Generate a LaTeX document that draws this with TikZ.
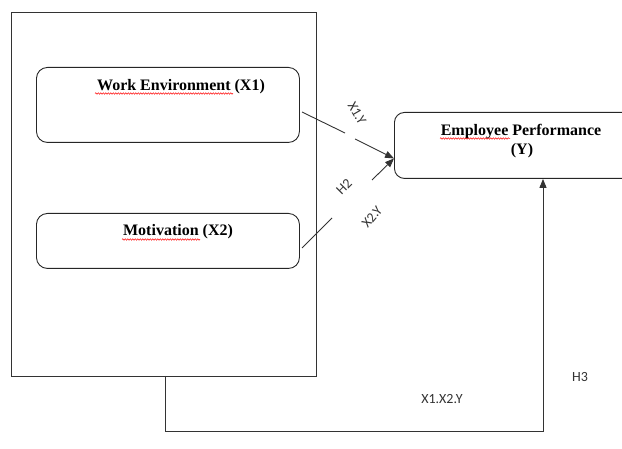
\documentclass[tikz,border=0pt]{standalone}
\usepackage{fontspec}
\setmainfont{Liberation Serif}
\newfontfamily\lblfont{Carlito}
\usetikzlibrary{arrows.meta,decorations.pathmorphing}
\begin{document}
\begin{tikzpicture}[x=1pt,y=-1pt,
 frm/.style={draw=black!80, line width=0.9pt, inner sep=0pt, anchor=north west},
 box/.style={draw=black!85, line width=0.9pt, rounded corners=11pt, inner sep=0pt, anchor=north west},
 title/.style={font=\fontsize{16}{18}\selectfont\bfseries, inner sep=0pt},
 lbl/.style={font=\lblfont\fontsize{14}{16}\selectfont, text=black!80, inner sep=0pt},
 conn/.style={draw=black!80, line width=0.9pt},
 tip/.style={-{Triangle[length=9pt,width=7pt]}},
 spell/.style={draw=red, line width=0.5pt, decorate, decoration={snake,amplitude=0.7pt,segment length=2.5pt}}]
\useasboundingbox (0,0) rectangle (622,449);
% frame
\node[frm, minimum width=305pt, minimum height=364pt] (frame) at (11,12) {};
% boxes
\node[box, minimum width=263pt, minimum height=75pt] (X1) at (36,67) {};
\node[box, minimum width=263pt, minimum height=55pt] (X2) at (36,213) {};
\node[box, rounded corners=10pt, minimum width=250pt, minimum height=66pt] (Y) at (394,112) {};
% titles
\node[title] (t1) at (181,87) {Work Environment (X1)};
\node[title] (t2) at (178,232) {Motivation (X2)};
\node[title] (t3) at (521,132) {Employee Performance};
\node[title] (t4) at (522,151) {(Y)};
% spell-check underlines
\draw[spell] (95,93.5) -- (233,93.5);
\draw[spell] (122,239.5) -- (200,239.5);
\draw[spell] (440,138.5) -- (510,138.5);
% connectors
\coordinate (yin) at ([yshift=-13pt]Y.west);
\coordinate (a1s) at (302,112);
\coordinate (a1g1) at (345,133);
\coordinate (a1g2) at (355,139);
\coordinate (a2s) at (302,248);
\coordinate (a2g1) at (332,218);
\coordinate (a2g2) at (372,180);
\draw[conn] (a1s) -- (a1g1);
\draw[conn,tip] (a1g2) -- (yin);
\draw[conn] (a2s) -- (a2g1);
\draw[conn,tip] (a2g2) -- (yin);
\coordinate (b0) at (165,376);
\coordinate (b1) at (543,431);
\draw[conn,tip] (b0) |- (b1) -- (b1 |- Y.south);
% labels
\node[lbl, rotate=-60] (l1) at (357,113) {X1.Y};
\node[lbl, rotate=45] (l2) at (344,187) {H2};
\node[lbl, rotate=50] (l3) at (372,217) {X2.Y};
\node[lbl] (l4) at (580,377) {H3};
\node[lbl] (l5) at (442,399) {X1.X2.Y};
\end{tikzpicture}
\end{document}
